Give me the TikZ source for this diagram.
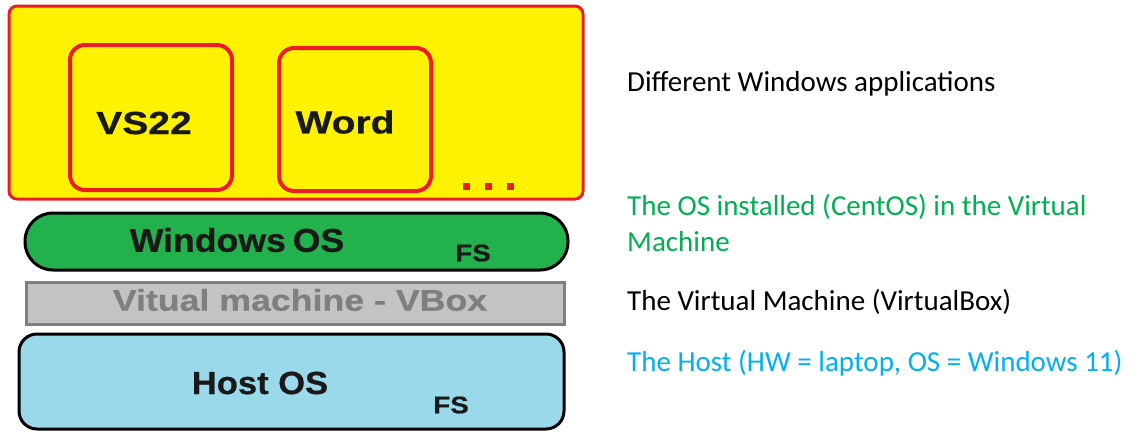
\documentclass[tikz,border=0pt]{standalone}
\usepackage{fontspec}
\setmainfont{Liberation Sans}
\newfontfamily\calib{Carlito}
\newfontfamily\heavy[FakeStretch=1.22,FakeBold=0.6]{Liberation Sans}
\newfontfamily\heavyn[FakeStretch=1.08,FakeBold=0.6]{Liberation Sans}
\newfontfamily\heavym[FakeStretch=1.16,FakeBold=0.6]{Liberation Sans}
\newfontfamily\heavyw[FakeStretch=1.19,FakeBold=0.6]{Liberation Sans}
\definecolor{ylw}{HTML}{FFF200}
\definecolor{rd}{HTML}{ED1C24}
\definecolor{grn}{HTML}{22B14C}
\definecolor{gtxt}{HTML}{00B050}
\definecolor{btxt}{HTML}{00B0F0}
\definecolor{lgray}{HTML}{C3C3C3}
\definecolor{dgray}{HTML}{7F7F7F}
\definecolor{lblue}{HTML}{99D9EA}
\tikzset{
  x=1pt, y=-1pt,
  appbox/.style={draw=rd, line width=4pt, rounded corners=15pt},
  bold/.style={font=\heavy\bfseries\fontsize{32}{36}\selectfont, text=black!90},
  layer/.style={font=\heavyn\bfseries\fontsize{33}{36}\selectfont, text=black!90},
  fslab/.style={font=\heavym\bfseries\fontsize{24}{26}\selectfont, text=black!90},
  note/.style={font=\calib\fontsize{29}{36}\selectfont, anchor=west, align=left, inner sep=0pt},
  dotsq/.style={fill=rd, minimum size=7pt, inner sep=0pt}
}
\begin{document}
\begin{tikzpicture}
\useasboundingbox (0,0) rectangle (1139,432);
% applications
\draw[fill=ylw, draw=rd, line width=3pt, rounded corners=8pt] (9,6) rectangle (583,199);
\draw[appbox] (70,45) rectangle (232,190);
\draw[appbox] (279,48) rectangle (431,191);
\node[bold] (vs) at (144,123) {VS22};
\node[bold] (word) at (345,122) {Word};
\node[dotsq] (d1) at (466,186) {};
\node[dotsq] (d2) at (488,186) {};
\node[dotsq] (d3) at (510,186) {};
% Windows OS
\draw[fill=grn, draw=black, line width=3pt, rounded corners=28pt] (25,213) rectangle (568,270);
\node[layer] (win) at (237,240) {Windows\hspace{-3pt} OS};
\node[fslab] (fs1) at (473,253) {FS};
% VM
\draw[fill=lgray, draw=dgray, line width=3pt] (26,282) rectangle (564,324);
\node[font=\heavyw\bfseries\fontsize{30}{32}\selectfont, text=dgray] (vm) at (300,300) {Vitual machine - VBox};
% Host
\draw[fill=lblue, draw=black, line width=3pt, rounded corners=18pt] (19,334) rectangle (564,429);
\node[layer, font=\heavyn\bfseries\fontsize{32}{36}\selectfont] (host) at (260,383) {Host OS};
\node[fslab] (fs2) at (451,405) {FS};
% notes
\node[note] (n1) at (627,84) {Different Windows applications};
\node[note, text=gtxt] (n2) at (627,223) {The OS installed (CentOS) in the Virtual\\Machine};
\node[note] (n3) at (627,302) {The Virtual Machine (VirtualBox)};
\node[note, text=btxt] (n4) at (627,363) {The Host (HW = laptop, OS = Windows 11)};
\end{tikzpicture}
\end{document}
